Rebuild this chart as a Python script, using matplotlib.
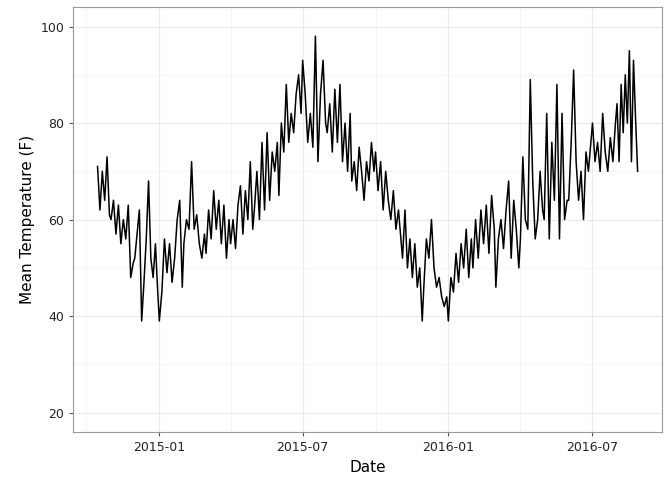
import matplotlib
matplotlib.use("Agg")
import matplotlib.pyplot as plt
import matplotlib.dates as mdates
import pandas as pd
import numpy as np

# monthly blocks of readings (mean temperature, F)
months = ["2014-10-15", "2014-11", "2014-12", "2015-01", "2015-02", "2015-03", "2015-04",
          "2015-05", "2015-06", "2015-07", "2015-08", "2015-09", "2015-10", "2015-11",
          "2015-12", "2016-01", "2016-02", "2016-03", "2016-04", "2016-05", "2016-06",
          "2016-07", "2016-08"]
temps = [
    [71, 62, 70, 64, 73, 61],
    [60, 64, 57, 63, 55, 60, 56, 63, 48, 51],
    [52, 57, 62, 39, 47, 56, 68, 52, 48, 55, 45],
    [39, 45, 56, 49, 55, 47, 52, 60, 64, 46],
    [55, 60, 58, 72, 58, 61, 55, 52, 57],
    [53, 62, 56, 66, 58, 64, 55, 63, 52, 60],
    [55, 60, 54, 63, 67, 57, 66, 60, 72, 58],
    [62, 70, 60, 76, 62, 78, 64, 74, 70, 76],
    [65, 80, 74, 88, 76, 82, 78, 86, 90, 82],
    [93, 86, 76, 82, 75, 98, 72, 86, 93, 80],
    [78, 84, 74, 87, 76, 88, 72, 80, 70, 82],
    [68, 72, 66, 75, 70, 64, 72, 68, 76, 70],
    [74, 66, 72, 62, 70, 64, 60, 66, 58, 62],
    [58, 52, 62, 50, 56, 48, 55, 46, 50, 39],
    [46, 56, 52, 60, 50, 46, 48, 44, 42, 44],
    [39, 48, 45, 53, 47, 55, 50, 58, 48, 56],
    [50, 60, 52, 62, 55, 63, 53, 65, 58],
    [46, 56, 60, 54, 62, 68, 52, 64, 58, 50],
    [56, 73, 60, 58, 89, 68, 56, 60, 70, 62],
    [60, 82, 56, 76, 64, 88, 56, 82, 60, 64],
    [64, 76, 91, 72, 64, 70, 60, 74, 70, 76],
    [80, 72, 76, 70, 82, 74, 70, 77, 72, 80],
    [84, 72, 88, 78, 90, 80, 95, 72, 93, 81, 70],
]
last_day = "2016-08-27"

dates, values = [], []
for i, (m, vals) in enumerate(zip(months, temps)):
    start = pd.Timestamp(m)
    if i + 1 < len(months):
        end = pd.Timestamp(months[i + 1]) - pd.Timedelta(days=2)
    else:
        end = pd.Timestamp(last_day)
    dates.extend(pd.date_range(start, end, periods=len(vals)))
    values.extend(vals)

fig = plt.figure(figsize=(6.72, 4.8), dpi=100)
ax = fig.add_axes([0.109, 0.1, 0.876, 0.885])
ax.plot(dates, values, color="black", lw=1.1)

x0, x1 = pd.Timestamp(months[0]), pd.Timestamp(last_day)
pad = (x1 - x0) * 0.045
ax.set_xlim(x0 - pad, x1 + pad)
ax.set_ylim(16, 104)
ax.set_yticks([20, 40, 60, 80, 100])
ax.set_yticks([30, 50, 70, 90], minor=True)
ax.set_xticks(pd.to_datetime(["2015-01-01", "2015-07-01", "2016-01-01", "2016-07-01"]))
ax.set_xticks(pd.to_datetime(["2014-10-01", "2015-04-01", "2015-10-01", "2016-04-01"]), minor=True)
ax.xaxis.set_major_formatter(mdates.DateFormatter("%Y-%m"))
ax.grid(True, which="major", color="#ebebeb", lw=0.9)
ax.grid(True, which="minor", color="#f4f4f4", lw=0.6)
ax.set_axisbelow(True)
for s in ax.spines.values():
    s.set_color("#999999")
    s.set_linewidth(0.8)
ax.tick_params(which="major", length=3, color="#555555", labelsize=9, labelcolor="#222222")
ax.tick_params(which="minor", length=0)
ax.set_xlabel("Date", fontsize=11)
ax.set_ylabel("Mean Temperature (F)", fontsize=11)
fig.savefig("out.png", dpi=100)
